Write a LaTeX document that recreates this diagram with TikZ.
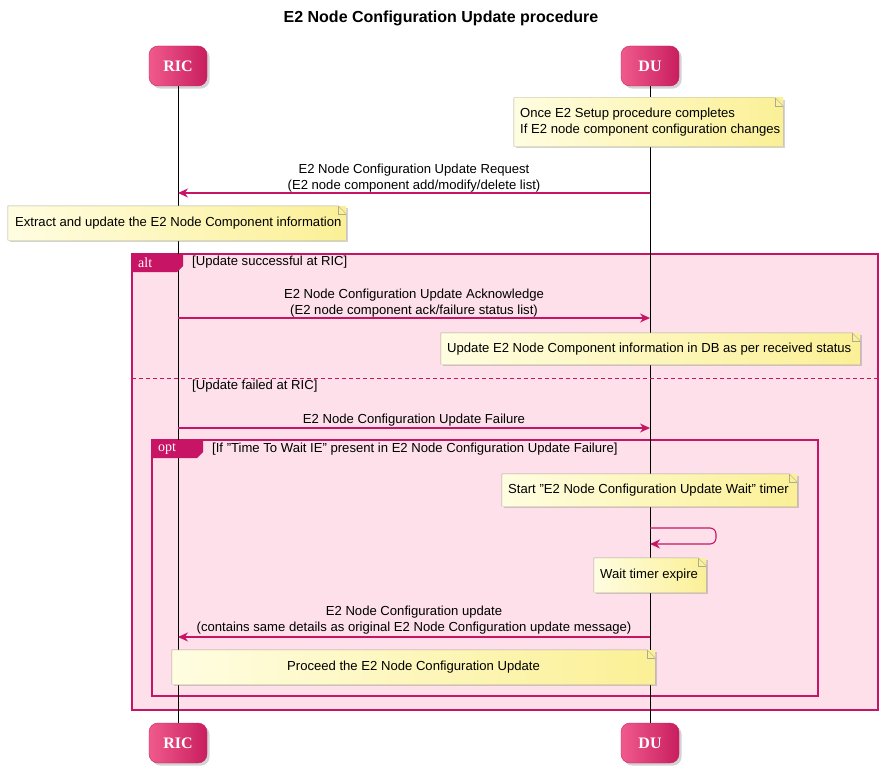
\documentclass[tikz,border=0pt]{standalone}
\usepackage{fontspec}
\setmainfont{Liberation Sans}
\newfontfamily\partfont{Liberation Serif}
\usetikzlibrary{arrows.meta,shadows,shapes.misc}
\definecolor{umlpink}{RGB}{200,20,100}
\definecolor{partlight}{RGB}{240,90,140}
\definecolor{partdark}{RGB}{200,30,95}
\definecolor{framefill}{RGB}{253,224,233}
\definecolor{notelight}{RGB}{255,253,225}
\definecolor{notedark}{RGB}{251,240,150}
\definecolor{noteline}{RGB}{170,170,150}
\newcommand{\notefold}[1]{%
  \draw[noteline] (#1.north west) -- ([xshift=-8pt]#1.north east) -- ([yshift=-8pt]#1.north east) -- (#1.south east) -- (#1.south west) -- cycle;
  \draw[noteline] ([xshift=-8pt]#1.north east) |- ([yshift=-8pt]#1.north east);}
\begin{document}
\begin{tikzpicture}[x=1pt,y=-1pt,
    font=\fontsize{13.1}{16}\selectfont,
    part/.style={rounded corners=9pt, left color=partlight, right color=partdark, draw=partdark,
      minimum width=58pt, minimum height=40pt, text=white, font=\partfont\bfseries\fontsize{16}{18}\selectfont,
      drop shadow={opacity=0.35}},
    note/.style={left color=notelight, right color=notedark, draw=none, inner sep=0pt,
      drop shadow={opacity=0.35, shadow xshift=2pt, shadow yshift=-2pt}},
    msg/.style={umlpink, line width=1.1pt, -{Stealth[length=10pt,width=9pt]}},
    frame/.style={draw=umlpink, line width=1.1pt},
    tab/.style={fill=umlpink, text=white, font=\partfont\fontsize{14}{16}\selectfont, inner sep=0pt},
    lbl/.style={align=center, inner sep=0pt}
]
\useasboundingbox (0,0) rectangle (882,773);

\node[font=\bfseries\fontsize{16}{18}\selectfont] (title) at (441,18) {E2 Node Configuration Update procedure};

% frames
\fill[framefill] (132,254) rectangle (878,710);
\draw[frame] (132,254) rectangle (878,710);
\draw[frame] (152,440) rectangle (818,696);

% lifelines
\node[part] (ric) at (178,66) {RIC};
\node[part] (du) at (650,66) {DU};
\node[part] (ricb) at (178,743) {RIC};
\node[part] (dub) at (650,743) {DU};
\draw (ric.south) -- (ricb.north);
\draw (du.south) -- (dub.north);

% frame tabs
\fill[tab] (132,254) -- (183,254) -- (183,266) -- (177,272) -- (132,272) -- cycle;
\node[tab, fill=none, anchor=west] (alt) at (138,263) {alt};
\node[anchor=west, inner sep=0pt] (altg1) at (192,262) {[Update successful at RIC]};
\draw[umlpink, line width=1pt, dash pattern=on 4pt off 3pt] (132,378) -- (878,378);
\node[anchor=west, inner sep=0pt] (altg2) at (192,386) {[Update failed at RIC]};
\fill[tab] (152,440) -- (203,440) -- (203,452) -- (197,458) -- (152,458) -- cycle;
\node[tab, fill=none, anchor=west] (opt) at (158,449) {opt};
\node[anchor=west, inner sep=0pt] (optg) at (212,449) {[If "Time To Wait IE" present in E2 Node Configuration Update Failure]};

% notes
\node[note, minimum width=269pt, minimum height=48pt] (n1) at (648.5,122) {};
\node[anchor=west, align=left, inner sep=0pt] at (520,122) {Once E2 Setup procedure completes\\If E2 node component configuration changes};
\node[note, minimum width=338pt, minimum height=34pt] (n2) at (177,223) {};
\node[anchor=west, inner sep=0pt] at (15,223) {Extract and update the E2 Node Component information};
\node[note, minimum width=419pt, minimum height=31pt] (n3) at (650.5,348.5) {};
\node[anchor=west, inner sep=0pt] at (447,349) {Update E2 Node Component information in DB as per received status};
\node[note, minimum width=295pt, minimum height=32pt] (n4) at (649.5,490) {};
\node[anchor=west, inner sep=0pt] at (508,490) {Start "E2 Node Configuration Update Wait" timer};
\node[note, minimum width=112pt, minimum height=34pt] (n5) at (650,575) {};
\node[anchor=west, inner sep=0pt] at (600,575) {Wait timer expire};
\node[note, minimum width=483pt, minimum height=34pt] (n6) at (413.5,667) {};
\node[inner sep=0pt] at (413.5,667) {Proceed the E2 Node Configuration Update};
\foreach \n in {n1,n2,n3,n4,n5,n6} {\notefold{\n}}

% messages
\coordinate (du1) at (650,193); \coordinate (ric1) at (178,193);
\coordinate (ric2) at (178,318); \coordinate (du2) at (650,318);
\coordinate (ric3) at (178,428); \coordinate (du3) at (650,428);
\coordinate (du4a) at (650,528); \coordinate (du4b) at (650,544);
\coordinate (du5) at (650,637); \coordinate (ric5) at (178,637);
\draw[msg] (du1) -- (ric1);
\node[lbl] (m1) at (414,178) {E2 Node Configuration Update Request\\(E2 node component add/modify/delete list)};
\draw[msg] (ric2) -- (du2);
\node[lbl] (m2) at (414,303) {E2 Node Configuration Update Acknowledge\\(E2 node component ack/failure status list)};
\draw[msg] (ric3) -- (du3);
\node[lbl] (m3) at (414,420) {E2 Node Configuration Update Failure};
\draw[msg, rounded corners=6pt] (du4a) -- ++(66,0) -- ++(0,16) -- (du4b);
\draw[msg] (du5) -- (ric5);
\node[lbl] (m5) at (414,620) {E2 Node Configuration update\\(contains same details as original E2 Node Configuration update message)};
\end{tikzpicture}
\end{document}
